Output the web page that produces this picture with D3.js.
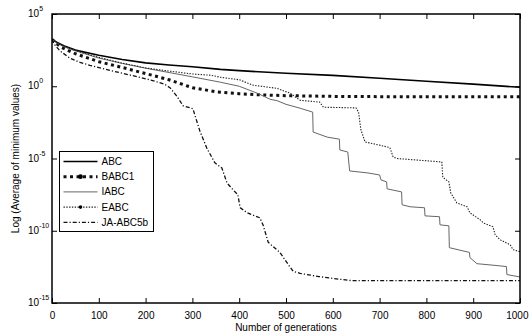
<!DOCTYPE html>
<html>
<head>
<meta charset="utf-8">
<script src="https://cdn.jsdelivr.net/npm/d3@7"></script>
<style>
  body { margin: 0; background: #fff; }
  text { font-family: Arial, "Liberation Sans", Helvetica, sans-serif; fill: #000; }
</style>
</head>
<body>
<script>
// [generation, log10(average of minimum values)]
const abc = [[0, 3.25], [10, 3.05], [25, 2.8], [50, 2.5], [100, 2.15], [150, 1.85], [200, 1.62], [250, 1.47],
  [300, 1.35], [360, 1.17], [400, 1.08], [500, 0.9], [600, 0.75], [700, 0.55], [800, 0.35], [900, 0.15], [1000, -0.07]]

const babc1 = [[0, 3.25], [10, 2.95], [20, 2.7], [50, 2.25], [100, 1.7], [150, 1.3], [200, 0.88], [250, 0.45],
  [300, -0.1], [350, -0.38], [400, -0.52], [450, -0.6], [500, -0.65], [600, -0.7], [700, -0.72], [1000, -0.72]]

const iabc = [[0, 3.25], [10, 3.0], [25, 2.75], [50, 2.45], [100, 1.95], [150, 1.58], [200, 1.25], [250, 0.95],
  [300, 0.65], [360, 0.28], [400, 0.0], [440, -0.5], [466, -0.9], [481, -1.0], [500, -1.25], [530, -1.52],
  [557, -1.79], [558, -3.17], [588, -3.52], [614, -3.66], [615, -4.41], [632, -4.55], [636, -5.86], [675, -6.0],
  [700, -6.14], [703, -6.48], [715, -6.62], [716, -7.1], [747, -7.31], [748, -8.2], [765, -8.34], [796, -8.41],
  [797, -8.97], [828, -9.03], [829, -9.59], [848, -9.66], [849, -11.17], [892, -11.5], [893, -11.86],
  [908, -12.28], [951, -12.41], [971, -12.48], [972, -13.03], [1000, -13.2]]

const eabc = [[0, 3.25], [10, 3.0], [25, 2.75], [50, 2.47], [100, 2.0], [150, 1.6], [200, 1.27], [250, 1.05],
  [300, 0.85], [340, 0.76], [360, 0.62], [400, 0.45], [430, 0.07], [480, -0.14], [509, -0.48], [530, -0.97],
  [572, -1.1], [580, -1.45], [650, -1.5], [655, -1.8], [660, -3.0], [669, -3.86], [680, -3.93], [716, -4.2],
  [722, -4.25], [729, -4.9], [737, -5.0], [833, -5.24], [835, -6.3], [848, -6.62], [852, -7.38], [865, -8.07],
  [887, -8.34], [893, -8.76], [915, -9.24], [921, -9.45], [942, -9.72], [947, -10.28], [957, -10.62],
  [979, -10.97], [985, -11.31], [1000, -11.45]]

const jaAbc5b = [[0, 3.25], [5, 2.9], [17, 2.45], [38, 1.95], [60, 1.65], [81, 1.45], [124, 1.1], [170, 0.75],
  [209, 0.45], [240, 0.15], [252, -0.1], [267, -0.7], [280, -1.35], [301, -1.55], [316, -3.1], [331, -4.3],
  [348, -5.3], [363, -5.66], [374, -6.7], [387, -7.17], [397, -7.5], [402, -8.4], [417, -8.76], [444, -9.1],
  [451, -9.6], [462, -10.8], [487, -11.5], [504, -12.3], [515, -12.8], [530, -12.95], [570, -13.17],
  [600, -13.3], [640, -13.45], [1000, -13.45]]

const seriesNames = ['ABC', 'BABC1', 'IABC', 'EABC', 'JA-ABC5b']
const xTicks = [0, 100, 200, 300, 400, 500, 600, 700, 800, 900, 1000]
const yTickExps = [5, 0, -5, -10, -15]

const width = 529
const height = 336
const margin = { top: 14, right: 9, bottom: 33, left: 52 }
const plotW = width - margin.left - margin.right
const plotH = height - margin.top - margin.bottom

const styles = {
  'ABC': { stroke: '#000', width: 1.6, dash: null },
  'BABC1': { stroke: '#111', width: 3, dash: '3,3.5' },
  'IABC': { stroke: '#666', width: 1, dash: null },
  'EABC': { stroke: '#222', width: 1.1, dash: '1.4,1.4' },
  'JA-ABC5b': { stroke: '#111', width: 1.3, dash: '4,2,1.2,2' }
}
const seriesData = { 'ABC': abc, 'BABC1': babc1, 'IABC': iabc, 'EABC': eabc, 'JA-ABC5b': jaAbc5b }

const x = d3.scaleLinear().domain([0, 1000]).range([0, plotW])
const y = d3.scaleLog().domain([1e-15, 1e5]).range([plotH, 0])

const svg = d3.select('body').append('svg')
  .attr('width', width)
  .attr('height', height)

const g = svg.append('g')
  .attr('transform', `translate(${margin.left}, ${margin.top})`)

g.append('clipPath').attr('id', 'clip')
  .append('rect').attr('width', plotW).attr('height', plotH)

const line = d3.line()
  .x(d => x(d[0]))
  .y(d => y(Math.pow(10, d[1])))

// draw lines
g.append('g').attr('clip-path', 'url(#clip)')
  .selectAll('path')
  .data(seriesNames)
  .enter()
  .append('path')
  .attr('d', name => line(seriesData[name]))
  .attr('fill', 'none')
  .attr('stroke', name => styles[name].stroke)
  .attr('stroke-width', name => styles[name].width)
  .attr('stroke-dasharray', name => styles[name].dash)
  .attr('stroke-linejoin', 'round')

// axes, MATLAB style: ticks inside on all four sides
const tickLen = 5
const xAxisB = d3.axisBottom(x).tickValues(xTicks).tickSize(-tickLen).tickPadding(9).tickFormat(d3.format('d'))
const xAxisT = d3.axisTop(x).tickValues(xTicks).tickSize(-tickLen).tickFormat('')
const yVals = yTickExps.map(e => Math.pow(10, e))
const yAxisL = d3.axisLeft(y).tickValues(yVals).tickSize(-tickLen).tickFormat('')
const yAxisR = d3.axisRight(y).tickValues(yVals).tickSize(-tickLen).tickFormat('')

g.append('g').attr('transform', `translate(0, ${plotH})`).call(xAxisB)
  .call(a => a.selectAll('text').style('font-size', '10px'))
  // keep the last label inside the window
  .call(a => a.selectAll('.tick').filter(d => d === 1000).select('text')
    .attr('text-anchor', 'end').attr('x', 8))
g.append('g').call(xAxisT)
g.append('g').call(yAxisL)
g.append('g').attr('transform', `translate(${plotW}, 0)`).call(yAxisR)
g.selectAll('.domain').remove()
g.selectAll('.tick line').attr('stroke', '#000').attr('stroke-width', 1)

g.append('rect')
  .attr('width', plotW)
  .attr('height', plotH)
  .attr('fill', 'none')
  .attr('stroke', '#000')
  .attr('stroke-width', 1.5)

// y tick labels as 10^n
const yLab = svg.append('g')
yTickExps.forEach(e => {
  const t = yLab.append('text')
    .attr('x', 28)
    .attr('y', margin.top + y(Math.pow(10, e)) + 3)
    .style('font-size', '10px')
  t.append('tspan').text('10')
  t.append('tspan').attr('dy', -6).style('font-size', '7px').text(String(e))
})

// axis titles
svg.append('text')
  .attr('x', margin.left + plotW / 2)
  .attr('y', 331)
  .attr('text-anchor', 'middle')
  .style('font-size', '10px')
  .text('Number of generations')

svg.append('text')
  .attr('transform', `translate(19, ${margin.top + plotH / 2}) rotate(-90)`)
  .attr('text-anchor', 'middle')
  .style('font-size', '10px')
  .text('Log (Average of minimum values)')

// legend
const legend = svg.append('g').attr('transform', 'translate(59.5, 151.5)')
legend.append('rect')
  .attr('width', 94)
  .attr('height', 80)
  .attr('fill', '#fff')
  .attr('stroke', '#000')
  .attr('stroke-width', 1)

const item = legend.selectAll('.item')
  .data(seriesNames)
  .enter().append('g')
  .attr('class', 'item')
  .attr('transform', (d, i) => `translate(0, ${10 + i * 15.2})`)

item.append('line')
  .attr('x1', 4).attr('x2', 38)
  .attr('stroke', d => styles[d].stroke)
  .attr('stroke-width', d => styles[d].width)
  .attr('stroke-dasharray', d => styles[d].dash)

// marker in the middle of the BABC1 and EABC samples
item.filter(d => d === 'BABC1' || d === 'EABC')
  .append('circle')
  .attr('cx', 21)
  .attr('r', d => d === 'BABC1' ? 2.4 : 1.8)
  .attr('fill', '#000')

item.append('text')
  .attr('x', 42)
  .attr('dy', '0.35em')
  .style('font-size', '10px')
  .text(d => d)
</script>
</body>
</html>
